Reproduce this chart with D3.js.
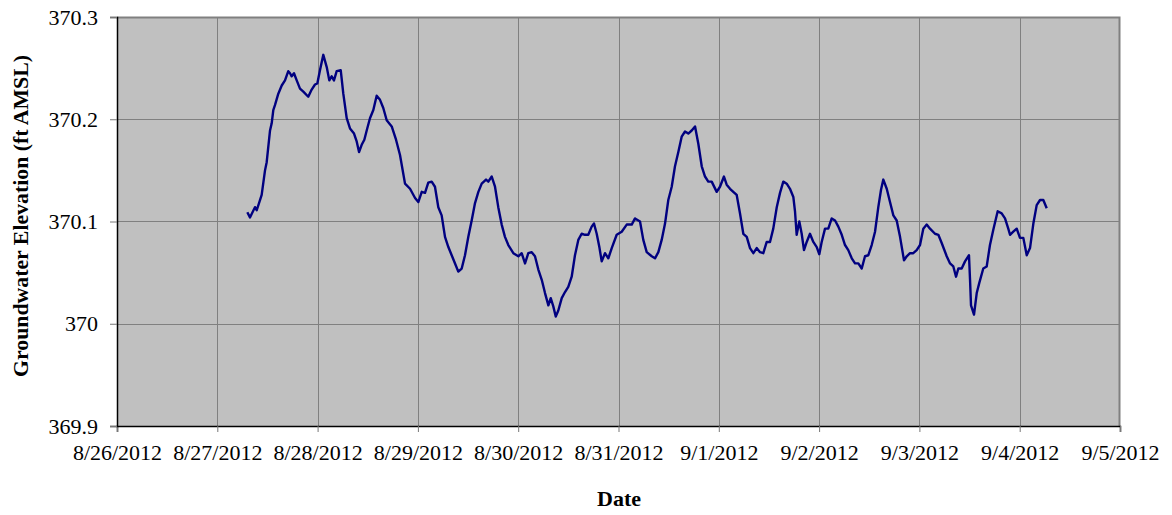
<!DOCTYPE html>
<html>
<head>
<meta charset="utf-8">
<script src="https://cdn.jsdelivr.net/npm/d3@7"></script>
<style>
  html, body { margin: 0; padding: 0; background: #fff; }
  #chart { width: 1172px; height: 515px; }
  text { font-family: "Liberation Serif", "Times New Roman", serif; }
</style>
</head>
<body>
<div id="chart"></div>
<script>
// hours after 8/26/2012 00:00
const hours = [
  31.18, 31.82, 33.02, 33.43, 34.22, 34.62, 35.41, 35.82, 36.61, 37.02,
  37.40, 37.81, 38.60, 39.41, 40.20, 40.99, 41.40, 41.80, 42.35, 43.00,
  43.79, 44.58, 45.77, 46.59, 47.38, 47.93, 48.57, 49.36, 50.18, 50.80,
  51.37, 51.92, 52.57, 53.53, 54.15, 54.96, 55.75, 56.71, 57.36, 57.91,
  58.55, 59.18, 59.75, 60.54, 61.33, 62.14, 62.93, 63.72, 64.53, 65.73,
  66.76, 67.72, 68.91, 70.11, 71.31, 72.10, 72.91, 73.70, 74.49, 75.30,
  76.09, 76.88, 77.69, 78.48, 79.28, 80.09, 80.88, 81.67, 82.48, 83.27,
  84.06, 84.87, 85.67, 86.46, 87.27, 88.30, 88.85, 89.66, 90.45, 91.24,
  92.05, 92.84, 93.63, 94.83, 96.03, 96.84, 97.63, 98.42, 99.23, 100.02,
  100.81, 101.63, 102.42, 103.21, 103.78, 104.40, 104.98, 105.60, 106.41, 107.20,
  107.99, 108.80, 109.59, 110.38, 111.19, 111.98, 112.77, 113.59, 114.14, 114.78,
  115.41, 115.98, 116.77, 117.56, 118.38, 119.57, 120.77, 121.97, 123.16, 123.95,
  125.15, 125.94, 126.75, 127.95, 128.74, 129.53, 130.34, 131.13, 131.92, 132.73,
  133.52, 134.31, 135.12, 135.91, 136.70, 137.51, 138.31, 139.10, 139.91, 140.70,
  141.49, 142.30, 143.50, 144.29, 145.24, 145.89, 146.68, 147.47, 148.28, 149.07,
  149.86, 150.68, 151.47, 152.26, 153.07, 153.86, 154.65, 155.46, 156.25, 157.04,
  157.86, 158.65, 159.44, 160.25, 161.04, 161.83, 162.24, 162.64, 163.27, 163.84,
  164.39, 165.03, 165.82, 166.62, 167.43, 168.05, 168.62, 169.41, 170.20, 171.02,
  171.81, 172.60, 173.41, 174.20, 174.99, 175.81, 176.60, 177.39, 178.20, 178.99,
  179.78, 180.59, 181.38, 182.17, 182.82, 183.37, 184.18, 184.97, 185.76, 186.57,
  187.36, 188.32, 188.96, 189.75, 190.54, 191.35, 192.15, 192.94, 193.75, 194.54,
  195.74, 196.53, 197.34, 198.54, 199.33, 200.12, 200.76, 201.31, 202.12, 202.91,
  203.87, 204.11, 204.35, 205.07, 205.71, 206.33, 207.29, 208.10, 208.89, 209.68,
  210.73, 211.69, 212.48, 213.27, 213.68, 214.47, 215.28, 216.07, 216.86, 217.68,
  218.47, 219.26, 220.07, 220.86, 221.65, 222.46
];

// groundwater elevation, ft AMSL
const elevation = [
  370.109, 370.104, 370.114, 370.111, 370.121, 370.126, 370.150, 370.158, 370.189, 370.196,
  370.209, 370.214, 370.225, 370.233, 370.238, 370.247, 370.245, 370.242, 370.245, 370.238,
  370.230, 370.227, 370.222, 370.229, 370.234, 370.235, 370.248, 370.263, 370.251, 370.238,
  370.242, 370.238, 370.247, 370.248, 370.225, 370.201, 370.191, 370.186, 370.178, 370.168,
  370.175, 370.180, 370.189, 370.201, 370.209, 370.223, 370.219, 370.211, 370.199, 370.193,
  370.180, 370.165, 370.137, 370.132, 370.123, 370.119, 370.129, 370.128, 370.138, 370.139,
  370.134, 370.114, 370.106, 370.085, 370.075, 370.067, 370.059, 370.051, 370.054, 370.067,
  370.085, 370.101, 370.118, 370.129, 370.137, 370.141, 370.139, 370.144, 370.134, 370.114,
  370.097, 370.085, 370.077, 370.069, 370.066, 370.069, 370.059, 370.069, 370.070, 370.066,
  370.053, 370.043, 370.030, 370.018, 370.025, 370.017, 370.007, 370.013, 370.025, 370.031,
  370.036, 370.046, 370.067, 370.082, 370.088, 370.087, 370.087, 370.095, 370.098, 370.088,
  370.075, 370.061, 370.069, 370.064, 370.074, 370.087, 370.090, 370.097, 370.097, 370.103,
  370.100, 370.082, 370.070, 370.066, 370.064, 370.070, 370.082, 370.098, 370.121, 370.134,
  370.154, 370.168, 370.183, 370.188, 370.186, 370.189, 370.193, 370.176, 370.154, 370.144,
  370.139, 370.139, 370.129, 370.134, 370.144, 370.136, 370.132, 370.129, 370.126, 370.108,
  370.088, 370.085, 370.074, 370.069, 370.074, 370.070, 370.069, 370.080, 370.080, 370.093,
  370.114, 370.128, 370.139, 370.137, 370.132, 370.124, 370.110, 370.087, 370.100, 370.088,
  370.072, 370.080, 370.088, 370.080, 370.075, 370.068, 370.080, 370.093, 370.093, 370.103,
  370.101, 370.095, 370.087, 370.077, 370.072, 370.064, 370.059, 370.059, 370.054, 370.066,
  370.067, 370.077, 370.090, 370.114, 370.131, 370.141, 370.132, 370.119, 370.106, 370.101,
  370.085, 370.062, 370.066, 370.069, 370.069, 370.072, 370.077, 370.093, 370.097, 370.093,
  370.088, 370.087, 370.079, 370.066, 370.059, 370.056, 370.046, 370.054, 370.054, 370.061,
  370.067, 370.043, 370.018, 370.009, 370.030, 370.040, 370.054, 370.056, 370.077, 370.092,
  370.110, 370.108, 370.103, 370.093, 370.087, 370.090, 370.093, 370.084, 370.084, 370.067,
  370.074, 370.098, 370.116, 370.121, 370.121, 370.113
];

const dateTicks = ['8/26/2012', '8/27/2012', '8/28/2012', '8/29/2012', '8/30/2012', '8/31/2012',
  '9/1/2012', '9/2/2012', '9/3/2012', '9/4/2012', '9/5/2012'];
const yTicks = [369.9, 370, 370.1, 370.2, 370.3];

(function () {
  const W = 1172, H = 515;
  const margin = { top: 17, right: 52, bottom: 89, left: 117 };
  const w = W - margin.left - margin.right;
  const h = H - margin.top - margin.bottom;

  const parseDate = d3.timeParse('%m/%d/%Y');
  const tickDates = dateTicks.map(parseDate);
  const start = tickDates[0];
  const data = hours.map((hr, i) => ({ date: d3.timeMinute.offset(start, Math.round(hr * 60)), value: elevation[i] }));

  const svg = d3.select('#chart').append('svg')
    .attr('width', W)
    .attr('height', H);

  const g = svg.append('g').attr('transform', `translate(${margin.left},${margin.top})`);

  const x = d3.scaleTime()
    .domain([tickDates[0], tickDates[tickDates.length - 1]])
    .range([0, w]);
  const y = d3.scaleLinear()
    .domain([yTicks[0], yTicks[yTicks.length - 1]])
    .range([h, 0]);

  g.append('rect')
    .attr('width', w)
    .attr('height', h)
    .attr('fill', '#c0c0c0');

  g.selectAll('.vgrid')
    .data(tickDates.slice(1, -1))
    .join('line')
    .attr('x1', d => Math.round(x(d)) + 0.5)
    .attr('x2', d => Math.round(x(d)) + 0.5)
    .attr('y1', 0)
    .attr('y2', h)
    .attr('stroke', '#808080')
    .attr('stroke-width', 1);

  g.selectAll('.hgrid')
    .data(yTicks.slice(1, -1))
    .join('line')
    .attr('x1', 0)
    .attr('x2', w)
    .attr('y1', d => Math.round(y(d)) + 0.5)
    .attr('y2', d => Math.round(y(d)) + 0.5)
    .attr('stroke', '#808080')
    .attr('stroke-width', 1);

  // top and right frame
  g.append('path')
    .attr('d', `M0,0.5H${w - 0.5}V${h}`)
    .attr('fill', 'none')
    .attr('stroke', '#808080')
    .attr('stroke-width', 2);

  const line = d3.line()
    .x(d => x(d.date))
    .y(d => y(d.value));

  g.append('path')
    .datum(data)
    .attr('fill', 'none')
    .attr('stroke', '#000080')
    .attr('stroke-width', 2.4)
    .attr('stroke-linejoin', 'round')
    .attr('d', line);

  g.append('g')
    .attr('transform', `translate(0,${h})`)
    .call(d3.axisBottom(x).tickValues(tickDates).tickFormat((d, i) => dateTicks[i]).tickSize(6).tickPadding(12))
    .call(a => a.select('.domain').attr('stroke', '#000').attr('stroke-width', 1.5))
    .call(a => a.selectAll('.tick line').attr('stroke', '#777'))
    .selectAll('text')
    .attr('fill', '#000')
    .style('font-family', '"Liberation Serif", serif')
    .style('font-size', '22px');

  g.append('g')
    .call(d3.axisLeft(y).tickValues(yTicks).tickFormat(d3.format('')).tickSize(7).tickPadding(12))
    .call(a => a.select('.domain').attr('stroke', '#000').attr('stroke-width', 1.5))
    .call(a => a.selectAll('.tick line').attr('stroke', '#777'))
    .selectAll('text')
    .attr('fill', '#000')
    .style('font-family', '"Liberation Serif", serif')
    .style('font-size', '22px');

  svg.append('text')
    .attr('x', 619)
    .attr('y', 506)
    .attr('text-anchor', 'middle')
    .attr('font-size', '22px')
    .attr('font-weight', 'bold')
    .text('Date');

  svg.append('text')
    .attr('transform', 'translate(28,216) rotate(-90)')
    .attr('text-anchor', 'middle')
    .attr('font-size', '21.8px')
    .attr('font-weight', 'bold')
    .text('Groundwater Elevation (ft AMSL)');
})();
</script>
</body>
</html>
